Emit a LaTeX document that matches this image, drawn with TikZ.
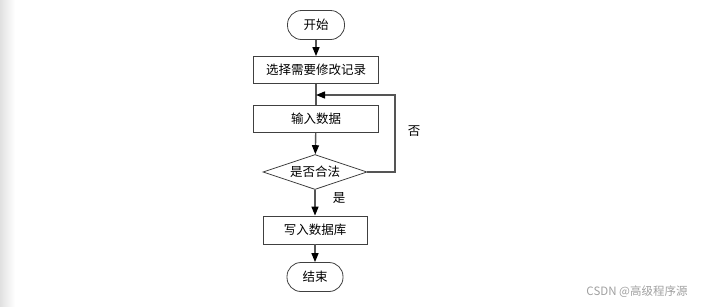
\documentclass[tikz,border=0pt]{standalone}
\usepackage{fontspec}
\setmainfont{Noto Sans CJK SC}
\usepackage{xcolor}
\usepackage{tikz}
\usetikzlibrary{positioning,arrows.meta,shapes.geometric}
\definecolor{edge}{HTML}{404040}
\definecolor{flow}{HTML}{555555}
\definecolor{wmgray}{HTML}{A0A0A0}

\begin{document}
\begin{tikzpicture}[
  x=1pt,y=-1pt,
  font=\fontsize{12.5}{14}\selectfont,
  term/.style={draw=edge,line width=0.8pt,rounded corners=14pt,
              minimum height=29pt,minimum width=57pt,align=center,inner sep=2pt},
  proc/.style={draw=edge,line width=0.8pt,minimum height=27pt,
              minimum width=125pt,align=center,inner sep=2pt},
  test/.style={draw=edge,line width=0.8pt,diamond,aspect=3,
              minimum width=104pt,minimum height=35pt,inner sep=0pt},
  lnk/.style={-{Triangle[length=9pt,width=7pt,black]},flow,line width=1.4pt},
  seg/.style={flow,line width=1.4pt}
]
\useasboundingbox (0,0) rectangle (702,306);
\shade[left color=black!12,right color=white] (0,0) rectangle (15,306);

% flow
\node[term] (start) at (316,25)  {开始};
\node[proc] (pick)  at (316,70)  {选择需要修改记录};
\node[proc] (input) at (316,119) {输入数据};
\node[test,minimum width=104pt,minimum height=35pt] (check) at (315,172) {};
\node (checkt) at (check) {是否合法};
\node[proc,minimum width=104pt,minimum height=28pt] (write) at (315,230) {写入数据库};
\node[term,minimum width=56pt] (stop) at (315,277) {结束};

\coordinate (back) at (395,95);

\draw[lnk] (start) -- (pick);
\draw[seg] (pick) -- (input);
\draw[lnk] (input) -- (check);
\draw[lnk] (check) -- (write);
\draw[lnk] (write) -- (stop);
\draw[lnk] (check.east) -| (back) -- (back -| pick.south);

% labels
\node (no)  at (414,131) {否};
\node (yes) at (339,198) {是};
\node[wmgray,font=\fontsize{11.5}{13}\selectfont] (wm) at (637,292) {CSDN @高级程序源};
\end{tikzpicture}
\end{document}
